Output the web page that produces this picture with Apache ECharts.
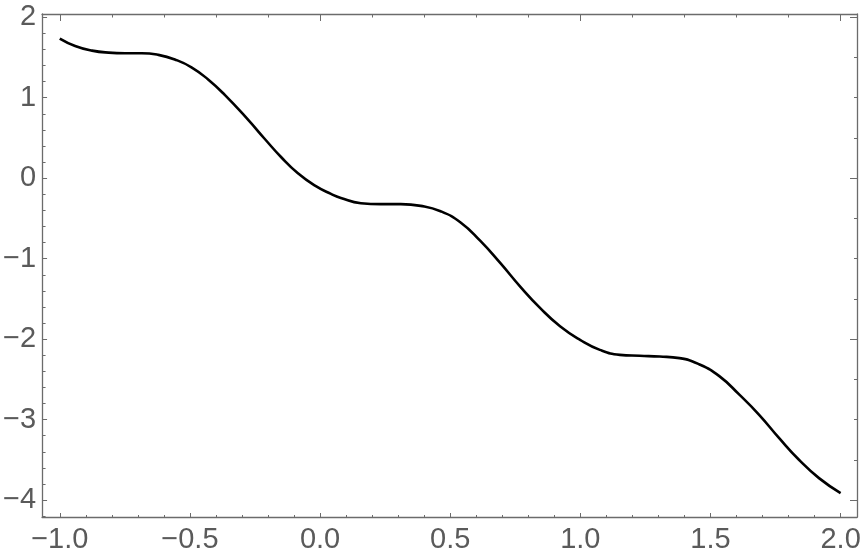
<!DOCTYPE html>
<html>
<head>
<meta charset="utf-8">
<script src="https://cdn.jsdelivr.net/npm/echarts@6/dist/echarts.min.js"></script>
<style>
  html, body { margin: 0; padding: 0; background: #fff; }
  #chart { width: 864px; height: 559px; }
</style>
</head>
<body>
<div id="chart"></div>
<script>
// curve points
const xs = [-1.0, -0.941, -0.876, -0.812, -0.749, -0.685, -0.621, -0.558, -0.494, -0.43, -0.366,
  -0.276, -0.213, -0.149, -0.085, -0.021, 0.042, 0.08, 0.157, 0.233, 0.31, 0.387, 0.463, 0.54,
  0.616, 0.693, 0.769, 0.846, 0.922, 0.999, 1.075, 1.152, 1.228, 1.305, 1.381, 1.458, 1.534,
  1.611, 1.687, 1.764, 1.84, 1.917, 2.0]
const ys = [1.735, 1.643, 1.585, 1.56, 1.553, 1.553, 1.532, 1.475, 1.378, 1.226, 1.035,
  0.724, 0.49, 0.26, 0.06, -0.09, -0.195, -0.245, -0.311, -0.323, -0.323, -0.344, -0.41, -0.55,
  -0.78, -1.056, -1.347, -1.615, -1.84, -2.009, -2.133, -2.195, -2.207, -2.216, -2.236, -2.315, -2.46,
  -2.69, -2.94, -3.23, -3.499, -3.727, -3.913]

// frame ticks
const xLabels = [-1, -0.5, 0, 0.5, 1, 1.5, 2]
const xMinorBottom = [-1, -0.9, -0.8, -0.7, -0.6, -0.5, -0.4, -0.3, -0.2, -0.1, 0, 0.1, 0.2, 0.3, 0.4, 0.5,
  0.6, 0.7, 0.8, 0.9, 1, 1.1, 1.2, 1.3, 1.4, 1.5, 1.6, 1.7, 1.8, 1.9, 2]
const xMajorTop = [-1, 0, 1, 2]
const xMinorTop = [-1, -0.8, -0.6, -0.4, -0.2, 0, 0.2, 0.4, 0.6, 0.8, 1, 1.2, 1.4, 1.6, 1.8, 2]
const yLabels = [-4, -3, -2, -1, 0, 1, 2]
const yMinorLeft = [-4.2, -4, -3.8, -3.6, -3.4, -3.2, -3, -2.8, -2.6, -2.4, -2.2, -2, -1.8, -1.6, -1.4, -1.2,
  -1, -0.8, -0.6, -0.4, -0.2, 0, 0.2, 0.4, 0.6, 0.8, 1, 1.2, 1.4, 1.6, 1.8, 2]
const yMajorRight = [-4, -2, 0, 2]
const yMinorRight = [-4, -3.5, -3, -2.5, -2, -1.5, -1, -0.5, 0, 0.5, 1, 1.5, 2]

const xMin = -1.068, xMax = 2.063
const yMin = -4.21, yMax = 2.04

const frameColor = '#6b6b6b'
const labelColor = '#5a5a5a'
const fontFamily = '"Liberation Sans", Arial, sans-serif'

const fmt = (v, digits) => {
  const s = Math.abs(v).toFixed(digits)
  return (v < 0 ? '\u2212' : '') + s
}

const axisBase = (extra) => Object.assign({
  type: 'value',
  splitLine: { show: false },
  axisLine: { show: false, onZero: false },
  axisLabel: { show: false },
  axisPointer: { show: false }
}, extra)

const ticks = (values, length) => ({
  show: true,
  inside: true,
  length: length,
  customValues: values,
  lineStyle: { color: frameColor, width: 1 }
})

const chart = echarts.init(document.getElementById('chart'))

const option = {
  animation: false,
  backgroundColor: '#fff',
  grid: { left: 40, right: 7, top: 14, bottom: 42, containLabel: false },
  xAxis: [
    axisBase({
      position: 'bottom', min: xMin, max: xMax,
      axisLine: { show: true, onZero: false, lineStyle: { color: frameColor, width: 1.3 } },
      axisTick: ticks(xLabels, 4),
      axisLabel: {
        show: true, customValues: xLabels, margin: 8,
        color: labelColor, fontSize: 29, fontFamily: fontFamily,
        formatter: (v) => fmt(v, 1)
      }
    }),
    axisBase({ position: 'bottom', min: xMin, max: xMax, axisTick: ticks(xMinorBottom, 2) }),
    axisBase({
      position: 'top', min: xMin, max: xMax,
      axisLine: { show: true, onZero: false, lineStyle: { color: frameColor, width: 1.3 } },
      axisTick: ticks(xMajorTop, 7)
    }),
    axisBase({ position: 'top', min: xMin, max: xMax, axisTick: ticks(xMinorTop, 3.5) })
  ],
  yAxis: [
    axisBase({
      position: 'left', min: yMin, max: yMax,
      axisLine: { show: true, onZero: false, lineStyle: { color: frameColor, width: 1.3 } },
      axisTick: ticks(yLabels, 5),
      axisLabel: {
        show: true, customValues: yLabels, margin: 6,
        color: labelColor, fontSize: 29, fontFamily: fontFamily,
        formatter: (v) => fmt(v, 0)
      }
    }),
    axisBase({ position: 'left', min: yMin, max: yMax, axisTick: ticks(yMinorLeft, 3.5) }),
    axisBase({
      position: 'right', min: yMin, max: yMax,
      axisLine: { show: true, onZero: false, lineStyle: { color: frameColor, width: 1.3 } },
      axisTick: ticks(yMajorRight, 7)
    }),
    axisBase({ position: 'right', min: yMin, max: yMax, axisTick: ticks(yMinorRight, 3) })
  ],
  series: [{
    type: 'line',
    xAxisIndex: 0,
    yAxisIndex: 0,
    data: xs.map((x, i) => [x, ys[i]]),
    smooth: 0.5,
    showSymbol: false,
    lineStyle: { color: '#000', width: 2.6 },
    clip: false
  }]
}

chart.setOption(option)
</script>
</body>
</html>
